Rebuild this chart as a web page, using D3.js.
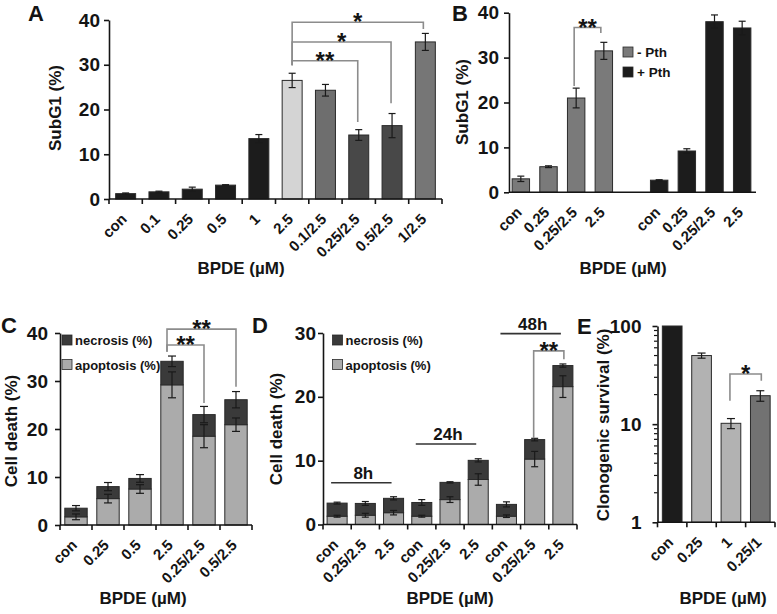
<!DOCTYPE html>
<html><head><meta charset="utf-8">
<script src="https://cdn.jsdelivr.net/npm/d3@7"></script>
<style>body{margin:0;background:#fff}</style>
</head><body><svg id="c" width="777" height="614"></svg>
<script>
// ---------- DATA ----------
const catsA = ["con","0.1","0.25","0.5","1","2.5","0.1/2.5","0.25/2.5","0.5/2.5","1/2.5"];
const valsA = [1.2,1.6,2.2,3.1,13.5,26.5,24.3,14.3,16.4,35.1];
const errA  = [0.15,0.15,0.45,0.1,0.9,1.6,1.3,1.2,2.7,1.9];
const ticksA = [0,10,20,30,40];

const catsB = ["con","0.25","0.25/2.5","2.5"];
const seriesB = ["- Pth","+ Pth"];
const valsBminus = [3.0,5.7,21.0,31.5];
const errBminus  = [0.6,0.2,2.2,1.9];
const valsBplus  = [2.7,9.2,38.0,36.6];
const errBplus   = [0.1,0.5,1.5,1.5];
const ticksB = [0,10,20,30,40];

const catsC = ["con","0.25","0.5","2.5","0.25/2.5","0.5/2.5"];
const apopC     = [1.7,5.5,7.5,29.2,18.5,20.9];
const errApopC  = [0.6,0.9,0.9,2.7,2.4,1.4];
const totalC    = [3.5,8.0,9.7,34.1,23.0,26.1];
const errTotalC = [0.55,0.85,0.8,1.1,1.7,1.7];
const ticksC = [0,10,20,30,40];
const seriesCD = ["necrosis (%)","apoptosis (%)"];

const timesD = ["8h","24h","48h"];
const catsD = ["con","0.25/2.5","2.5","con","0.25/2.5","2.5","con","0.25/2.5","2.5"];
const apopD     = [1.3,1.45,1.85, 1.3,3.9,7.05, 1.3,10.25,21.6];
const errApopD  = [0.15,0.3,0.35, 0.15,0.45,0.9, 0.2,1.2,1.7];
const totalD    = [3.35,3.3,4.1, 3.45,6.6,10.05, 3.15,13.3,24.9];
const errTotalD = [0.15,0.3,0.25, 0.45,0.1,0.25, 0.4,0.2,0.25];
const ticksD = [0,10,20,30];

const catsE = ["con","0.25","1","0.25/1"];
const valsE = [100,50,10.2,19.5];
const errE  = [0,3,1.2,2.4];
const ticksE = [1,10,100];

// ---------- STYLE ----------
const F = '"Liberation Sans", Arial, Helvetica, sans-serif';
const INK = "#141414";
const fillA = ["#1c1c1c","#1c1c1c","#1c1c1c","#1c1c1c","#1c1c1c","#d4d4d4","#6e6e6e","#484848","#484848","#767676"];
const fillB = ["#7a7a7a","#1c1c1c"];
const fillNec = "#3a3a3a", fillApo = "#ababab";
const fillE = ["#1c1c1c","#b2b2b2","#b2b2b2","#727272"];
const BR = "#8c8c8c";
const TICKFS = 15, TITLEFS = 17, LETTERFS = 22;

const svg = d3.select("#c");

function txt(g, x, y, s, size, anchor, rot) {
  return g.append("text")
    .attr("transform", `translate(${x},${y})` + (rot ? ` rotate(${rot})` : ""))
    .attr("text-anchor", anchor || "middle")
    .attr("font-size", size).attr("font-weight", "bold")
    .attr("font-family", F).attr("fill", INK).text(s);
}

function yAxis(g, y, x0, ticks, pad, fmt) {
  const ax = d3.axisLeft(y).tickValues(ticks).tickSize(5).tickSizeOuter(0)
    .tickPadding(pad).tickFormat(fmt || d3.format("d"));
  const a = g.append("g").attr("transform", `translate(${x0},0)`).call(ax);
  a.attr("font-family", F).attr("font-size", 19).attr("font-weight", "bold");
  a.selectAll("path,line").attr("stroke", INK).attr("stroke-width", 1.6);
  a.selectAll("text").attr("fill", INK);
  return a;
}

function xAxis(g, x, yb, keys, labels, withTicks, xStart) {
  const r = x.range();
  g.append("line").attr("x1", xStart).attr("x2", r[1]).attr("y1", yb).attr("y2", yb)
    .attr("stroke", INK).attr("stroke-width", 1.6);
  if (withTicks) {
    const n = x.domain().length;
    d3.range(n + 1).forEach(i => {
      const xx = r[0] + i * x.step();
      g.append("line").attr("x1", xx).attr("x2", xx).attr("y1", yb).attr("y2", yb + 5)
        .attr("stroke", INK).attr("stroke-width", 1.6);
    });
  }
  keys.forEach((k, i) => {
    if (!labels[i]) return;
    txt(g, x(k) + x.bandwidth() / 2 + 2, yb + 21, labels[i], TICKFS, "end", -45);
  });
}

function bar(g, cx, w, yTop, yBot, fill) {
  g.append("rect").attr("x", cx - w / 2).attr("y", yTop).attr("width", w)
    .attr("height", yBot - yTop).attr("fill", fill).attr("stroke", "#2a2a2a").attr("stroke-width", 1);
}

function err(g, cx, y, v, e, cap) {
  if (!e) return;
  const y1 = y(v + e), y2 = y(Math.max(v - e, 1e-9));
  const s = "#1a1a1a";
  g.append("line").attr("x1", cx).attr("x2", cx).attr("y1", y1).attr("y2", y2).attr("stroke", s).attr("stroke-width", 1.2);
  [y1, y2].forEach(yy => g.append("line").attr("x1", cx - cap).attr("x2", cx + cap)
    .attr("y1", yy).attr("y2", yy).attr("stroke", s).attr("stroke-width", 1.2));
}

function bracket(g, x1, x2, yl, y1, y2, label) {
  const p = `M${x1},${y1}V${yl}H${x2}V${y2}`;
  g.append("path").attr("d", p).attr("fill", "none").attr("stroke", BR).attr("stroke-width", 1.6);
  txt(g, (x1 + x2) / 2, yl + 8, label, 24, "middle");
}

// ---------- PANEL A ----------
{
  const g = svg.append("g");
  const x = d3.scaleBand().domain(catsA).range([109, 442]);
  const y = d3.scaleLinear().domain([0, 40]).range([199, 20]);
  const w = x.bandwidth() * 0.6;
  catsA.forEach((c, i) => {
    const cx = x(c) + x.bandwidth() / 2;
    bar(g, cx, w, y(valsA[i]), y(0), fillA[i]);
    err(g, cx, y, valsA[i], errA[i], 3.5);
  });
  xAxis(g, x, 199, catsA, catsA, true, 109);
  yAxis(g, y, 109, ticksA, 4);
  const c = k => x(k) + x.bandwidth() / 2;
  bracket(g, c("2.5"), c("0.25/2.5") - 1, y(30.9), y(29.9), y(17.2), "**");
  bracket(g, c("2.5"), c("0.5/2.5") - 1, y(35.1), y(29.9), y(21.4), "*");
  bracket(g, c("2.5"), c("1/2.5") - 2, y(39.5), y(29.9), y(38.0), "*");
  txt(g, 61, 108, "SubG1 (%)", TITLEFS, "middle", -90);
  txt(g, 241, 274, "BPDE (\u00b5M)", TITLEFS, "middle");
  txt(g, 28, 21, "A", LETTERFS, "start");
}

// ---------- PANEL B ----------
{
  const g = svg.append("g");
  const keys = d3.range(9);
  const labels = catsB.concat([""], catsB);
  const vals = valsBminus.concat([null], valsBplus);
  const errs = errBminus.concat([null], errBplus);
  const x = d3.scaleBand().domain(keys).range([507, 756]);
  const y = d3.scaleLinear().domain([0, 40]).range([192.3, 12.7]);
  const w = x.bandwidth() * 0.63;
  keys.forEach(k => {
    if (vals[k] == null) return;
    const cx = x(k) + x.bandwidth() / 2;
    bar(g, cx, w, y(vals[k]), y(0), fillB[k < 4 ? 0 : 1]);
    err(g, cx, y, vals[k], errs[k], 3.5);
  });
  xAxis(g, x, 192.3, keys, labels, false, 509);
  yAxis(g, y, 509, ticksB, 5);
  const c = k => x(k) + x.bandwidth() / 2;
  bracket(g, c(2) - 2, c(3) - 3, y(36.7), y(23.7), y(35.5), "**");
  seriesB.forEach((s, i) => {
    g.append("rect").attr("x", 623).attr("y", 47 + i * 20).attr("width", 10).attr("height", 10)
      .attr("fill", fillB[i]).attr("stroke", "#2a2a2a").attr("stroke-width", 0.8);
    txt(g, 637, 57 + i * 20, s, 13.5, "start");
  });
  txt(g, 468, 102, "SubG1 (%)", TITLEFS, "middle", -90);
  txt(g, 623, 274, "BPDE (\u00b5M)", TITLEFS, "middle");
  txt(g, 452, 21, "B", LETTERFS, "start");
}

// ---------- stacked helper ----------
function stacked(g, x, y, keys, apop, eA, tot, eT, bw, cap) {
  keys.forEach((k, i) => {
    const cx = x(k) + x.bandwidth() / 2;
    bar(g, cx, bw, y(apop[i]), y(0), fillApo);
    bar(g, cx, bw, y(tot[i]), y(apop[i]), fillNec);
    err(g, cx, y, tot[i], eT[i], cap);
    err(g, cx, y, apop[i], eA[i], cap);
  });
}
function legendCD(g, x0) {
  seriesCD.forEach((s, i) => {
    g.append("rect").attr("x", x0).attr("y", 335 + i * 24.5).attr("width", 10).attr("height", 10)
      .attr("fill", i === 0 ? fillNec : fillApo).attr("stroke", "#2a2a2a").attr("stroke-width", 0.8);
    txt(g, x0 + 13, 345 + i * 24.5, s, 13, "start");
  });
}

// ---------- PANEL C ----------
{
  const g = svg.append("g");
  const x = d3.scaleBand().domain(catsC).range([60, 252]);
  const y = d3.scaleLinear().domain([0, 40]).range([525, 333]);
  stacked(g, x, y, catsC, apopC, errApopC, totalC, errTotalC, x.bandwidth() * 0.7, 4);
  xAxis(g, x, 525, catsC, catsC, true, 60);
  yAxis(g, y, 60, ticksC, 7);
  const c = k => x(k) + x.bandwidth() / 2;
  bracket(g, c("2.5") - 5, c("0.25/2.5"), y(37.5), y(36.1), y(25.4), "**");
  bracket(g, c("2.5") - 5, c("0.5/2.5"), y(40.8), y(36.1), y(28.8), "**");
  legendCD(g, 62);
  txt(g, 17, 431, "Cell death (%)", TITLEFS, "middle", -90);
  txt(g, 143, 604, "BPDE (\u00b5M)", TITLEFS, "middle");
  txt(g, 1, 333, "C", LETTERFS, "start");
}

// ---------- PANEL D ----------
{
  const g = svg.append("g");
  const keys = d3.range(catsD.length);
  const x = d3.scaleBand().domain(keys).range([323, 577]);
  const y = d3.scaleLinear().domain([0, 30]).range([524.5, 333]);
  stacked(g, x, y, keys, apopD, errApopD, totalD, errTotalD, x.bandwidth() * 0.71, 3.5);
  xAxis(g, x, 524.5, keys, catsD, true, 323);
  yAxis(g, y, 323, ticksD, 2);
  const c = k => x(k) + x.bandwidth() / 2;
  const lineY = [6.55, 12.6, 29.9];
  timesD.forEach((t, j) => {
    const a = c(j * 3) - 6, b = c(j * 3 + 2) - 2;
    g.append("line").attr("x1", a).attr("x2", b).attr("y1", y(lineY[j])).attr("y2", y(lineY[j]))
      .attr("stroke", "#333").attr("stroke-width", 1.6);
    txt(g, (a + b) / 2 + 2, y(lineY[j]) - 4, t, 17, "middle");
  });
  bracket(g, c(7) - 1, c(8) + 1, y(27.2), y(13.5), y(25.9), "**");
  legendCD(g, 332.5);
  txt(g, 282, 429, "Cell death (%)", TITLEFS, "middle", -90);
  txt(g, 450, 604, "BPDE (\u00b5M)", TITLEFS, "middle");
  txt(g, 252, 333, "D", LETTERFS, "start");
}

// ---------- PANEL E ----------
{
  const g = svg.append("g");
  const x = d3.scaleBand().domain(catsE).range([657.5, 775]);
  const y = d3.scaleLog().domain([1, 100]).range([522.3, 326]);
  const w = x.bandwidth() * 0.67;
  catsE.forEach((k, i) => {
    const cx = x(k) + x.bandwidth() / 2;
    bar(g, cx, w, y(valsE[i]), y(1), fillE[i]);
    err(g, cx, y, valsE[i], errE[i], 4);
  });
  xAxis(g, x, 522.3, catsE, catsE, true, 657.5);
  yAxis(g, y, 657.5, ticksE, 11, d3.format("d"));
  const minor = [];
  [1, 10].forEach(d => d3.range(2, 10).forEach(m => minor.push(d * m)));
  minor.forEach(v => g.append("line").attr("x1", 654).attr("x2", 657.5)
    .attr("y1", y(v)).attr("y2", y(v)).attr("stroke", INK).attr("stroke-width", 1.2));
  const c = k => x(k) + x.bandwidth() / 2;
  bracket(g, c("1") - 1, c("0.25/1") + 1, y(32.4), y(17.3), y(27.7), "*");
  txt(g, 609, 425, "Clonogenic survival (%)", TITLEFS, "middle", -90);
  txt(g, 723, 604, "BPDE (\u00b5M)", TITLEFS, "middle");
  txt(g, 577, 334, "E", LETTERFS, "start");
}
</script>
</body></html>
